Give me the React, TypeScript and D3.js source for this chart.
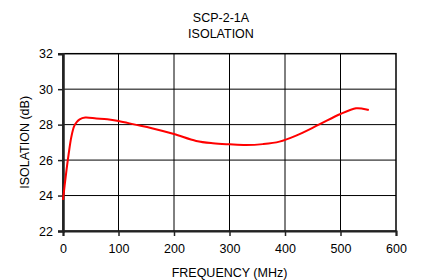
import React, { useEffect, useRef } from 'react'
import * as d3 from 'd3'

const freqs = [0, 5, 10, 15, 20, 25, 30, 40, 60, 80, 100, 130, 160, 200, 240, 270, 300, 330, 360, 390, 420, 460, 500, 528, 540, 551]
const isolation = [23.75, 25.1, 26.3, 27.3, 27.9, 28.15, 28.3, 28.4, 28.35, 28.3, 28.2, 28.0, 27.8, 27.47, 27.08, 26.95, 26.89, 26.85, 26.9, 27.04, 27.38, 27.98, 28.6, 28.92, 28.9, 28.82]
const xTicks = [0, 100, 200, 300, 400, 500, 600]
const yTicks = [22, 24, 26, 28, 30, 32]
const titleLines = ['SCP-2-1A', 'ISOLATION']

const W = 422
const H = 280

const App: React.FC = () => {
  const svgRef = useRef<SVGSVGElement>(null)

  useEffect(() => {
    if (!svgRef.current) return
    const svg = d3.select(svgRef.current)
    svg.selectAll('*').remove()

    const font = 'Liberation Sans, Arial, sans-serif'
    const x = d3.scaleLinear().domain([0, 600]).range([63, 396])
    const y = d3.scaleLinear().domain([22, 32]).range([231, 53.7])

    // title
    titleLines.forEach((t, i) => {
      svg.append('text')
        .text(t)
        .attr('x', 221)
        .attr('y', 21.5 + i * 16.6)
        .attr('text-anchor', 'middle')
        .attr('font-family', font)
        .attr('font-size', '12.5px')
        .attr('fill', '#000')
    })

    // grid
    svg.append('g').selectAll('line')
      .data(xTicks.slice(1, -1))
      .enter().append('line')
      .attr('x1', d => x(d)).attr('x2', d => x(d))
      .attr('y1', y(22)).attr('y2', y(32))
      .attr('stroke', '#000').attr('stroke-width', 1)

    svg.append('g').selectAll('line')
      .data(yTicks.slice(1, -1))
      .enter().append('line')
      .attr('y1', d => y(d)).attr('y2', d => y(d))
      .attr('x1', x(0)).attr('x2', x(600))
      .attr('stroke', '#000').attr('stroke-width', 1)

    // frame
    svg.append('rect')
      .attr('x', x(0)).attr('y', y(32))
      .attr('width', x(600) - x(0)).attr('height', y(22) - y(32))
      .attr('fill', 'none').attr('stroke', '#000').attr('stroke-width', 1.5)

    // axes
    const xAxis = svg.append('g')
      .attr('transform', `translate(0,${y(22)})`)
      .call(d3.axisBottom(x).tickValues(xTicks).tickSize(5).tickPadding(4))
    xAxis.select('.domain').attr('stroke', '#222').attr('stroke-width', 2)
    xAxis.selectAll('.tick line').attr('stroke', '#222').attr('stroke-width', 1.5)
    xAxis.selectAll('text').attr('font-family', font).attr('font-size', '12.5px').attr('fill', '#000').attr('dy', '1em')

    const yAxis = svg.append('g')
      .attr('transform', `translate(${x(0)},0)`)
      .call(d3.axisLeft(y).tickValues(yTicks).tickSize(5).tickPadding(5))
    yAxis.select('.domain').attr('stroke', '#222').attr('stroke-width', 2.5)
    yAxis.selectAll('.tick line').attr('stroke', '#222').attr('stroke-width', 1.5)
    yAxis.selectAll('text').attr('font-family', font).attr('font-size', '12.5px').attr('fill', '#000')

    // axis titles
    svg.append('text')
      .text('FREQUENCY (MHz)')
      .attr('x', 229.5).attr('y', 276.5)
      .attr('text-anchor', 'middle')
      .attr('font-family', font).attr('font-size', '12.5px').attr('fill', '#000')

    svg.append('text')
      .text('ISOLATION (dB)')
      .attr('transform', `translate(29,${(y(22) + y(32)) / 2}) rotate(-90)`)
      .attr('text-anchor', 'middle')
      .attr('font-family', font).attr('font-size', '12.5px').attr('fill', '#000')

    // curve
    const pts = freqs.map((f, i) => [f, isolation[i]] as [number, number])
    const line = d3.line<[number, number]>()
      .x(d => x(d[0]))
      .y(d => y(d[1]))
      .curve(d3.curveCatmullRom.alpha(0.5))

    svg.append('path')
      .datum(pts)
      .attr('d', line)
      .attr('fill', 'none')
      .attr('stroke', '#ff0000')
      .attr('stroke-width', 2)
  }, [])

  return (
    <svg
      ref={svgRef}
      width={W}
      height={H}
      style={{ position: 'absolute', left: 0, top: 0, background: '#fff' }}
    />
  )
}

export default App
